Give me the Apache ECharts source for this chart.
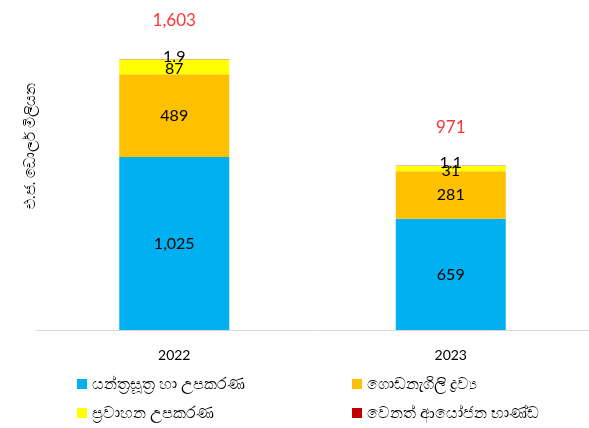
<!DOCTYPE html>
<html><head><meta charset="utf-8">
<script src="https://cdn.jsdelivr.net/npm/echarts@6/dist/echarts.min.js"></script>
<style>html,body{margin:0;padding:0;background:#fff}#c{width:589px;height:428px}</style>
</head><body><div id="c"></div>
<script>
const categories = ['2022', '2023'];
const seriesNames = ['යන්ත්‍රසූත්‍ර හා උපකරණ', 'ගොඩනැගිලි ද්‍රව්‍ය', 'ප්‍රවාහන උපකරණ', 'වෙනත් ආයෝජන භාණ්ඩ'];
const machinery = [1025, 659];
const building = [489, 281];
const transport = [87, 31];
const other = [1.9, 1.1];
const totals = [1603, 971];
const yAxisTitle = 'එ.ජ. ඩොලර් මිලියන';

const colors = ['#00B0F0', '#FFC000', '#FFFF00', '#C00000'];
const FONT = 'Lato, "Noto Sans", sans-serif';
const fmt = v => v.toLocaleString('en-US');

const chart = echarts.init(document.getElementById('c'), null, {renderer: 'canvas'});
const dataSets = [machinery, building, transport, other];
const series = dataSets.map((d, i) => ({
  name: seriesNames[i],
  type: 'bar',
  stack: 'total',
  barWidth: 110,
  data: d,
  itemStyle: {color: colors[i]},
  label: {
    show: true,
    position: 'inside',
    offset: i === 3 ? [0, -3] : (i === 2 ? [0, 2] : [0, 0]),
    color: '#000',
    fontSize: 16,
    fontFamily: FONT,
    formatter: p => fmt(p.value)
  }
}));
series.push({
  name: 'total',
  type: 'scatter',
  symbolSize: 0,
  data: totals,
  silent: true,
  label: {
    show: true,
    position: 'top',
    distance: 30,
    color: '#FF0000',
    fontSize: 17,
    fontFamily: FONT,
    formatter: p => fmt(p.value)
  }
});

chart.setOption({
  animation: false,
  textStyle: {fontFamily: FONT},
  grid: {left: 36, right: 0, top: 26, bottom: 98},
  xAxis: {
    type: 'category',
    data: categories,
    axisLine: {lineStyle: {color: '#D9D9D9', width: 1}},
    axisTick: {show: false},
    axisLabel: {color: '#000', fontSize: 14, margin: 18, fontFamily: FONT}
  },
  yAxis: {
    type: 'value',
    min: 0, max: 1800,
    axisLine: {show: false}, axisTick: {show: false},
    axisLabel: {show: false}, splitLine: {show: false}
  },
  legend: [
    {data: [seriesNames[0], seriesNames[2]], orient: 'vertical', left: 72, top: 371, itemWidth: 10, itemHeight: 10, itemGap: 13, icon: 'rect',
     textStyle: {fontSize: 16, color: '#000'}},
    {data: [seriesNames[1], seriesNames[3]], orient: 'vertical', left: 347, top: 371, itemWidth: 10, itemHeight: 10, itemGap: 13, icon: 'rect',
     textStyle: {fontSize: 16, color: '#000'}}
  ],
  graphic: [{
    type: 'text',
    x: 30, y: 146,
    rotation: Math.PI / 2,
    style: {text: yAxisTitle, fontSize: 15, fill: '#000', textAlign: 'center', textVerticalAlign: 'middle', fontFamily: FONT}
  }],
  series: series
});
</script></body></html>
